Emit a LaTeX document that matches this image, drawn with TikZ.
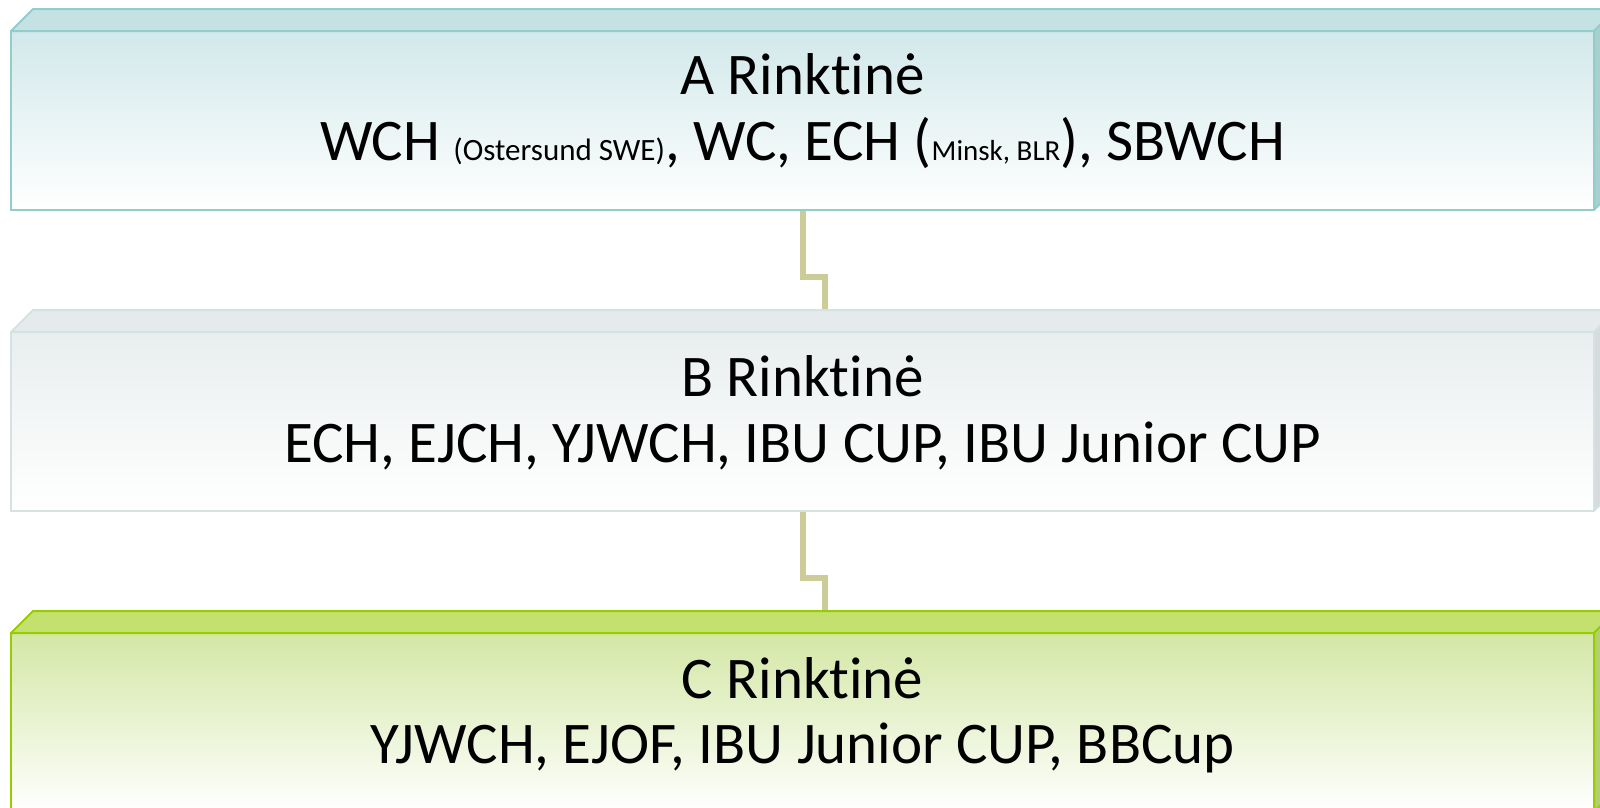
\documentclass[tikz,border=0pt]{standalone}
\usepackage{fontspec}
\setmainfont{Carlito}[Ligatures={CommonOff,RareOff}]
\usetikzlibrary{calc}
\definecolor{aFrontTop}{RGB}{210,232,234}
\definecolor{aTopFace}{RGB}{196,226,227}
\definecolor{aSide}{RGB}{168,208,207}
\definecolor{aLine}{RGB}{146,205,204}
\definecolor{bFrontTop}{RGB}{233,238,239}
\definecolor{bTopFace}{RGB}{229,235,236}
\definecolor{bSide}{RGB}{214,220,221}
\definecolor{bLine}{RGB}{214,225,226}
\definecolor{cFrontTop}{RGB}{211,231,166}
\definecolor{cTopFace}{RGB}{196,225,112}
\definecolor{cSide}{RGB}{178,208,110}
\definecolor{cLine}{RGB}{153,204,0}
\definecolor{connC}{RGB}{204,204,153}
\tikzset{
  front/.style={rectangle, inner sep=0pt, outer sep=0pt, minimum width=1583pt, minimum height=179pt, line width=2pt},
  title/.style={anchor=base, font=\fontsize{59}{70}\selectfont},
  sub/.style={anchor=base, font=\fontsize{59}{70}\selectfont},
  conn/.style={draw=connC, line width=6pt},
}
\newcommand{\smalltxt}[1]{{\fontsize{31}{36}\selectfont #1}}
\newcommand{\smallertxt}[1]{{\fontsize{29}{34}\selectfont #1}}
\newcommand{\rink}{Rinkt\kern0pt inė}
\begin{document}
\begin{tikzpicture}[x=1pt,y=-1pt]
\useasboundingbox (0,0) rectangle (1600,807);
\clip (0,0) rectangle (1600,807);
% front faces as named nodes
\path (802.5,120.5) node[front] (A) {};
\path (802.5,421.5) node[front] (B) {};
\path (802.5,722.5) node[front] (C) {};
\coordinate (Bb) at ([xshift=22pt,yshift=22pt]B.north);
\coordinate (Cb) at ([xshift=22pt,yshift=22pt]C.north);
% connectors
\draw[conn] (A.south) -- ++(0,67) -| (Bb);
\draw[conn] (B.south) -- ++(0,67) -| (Cb);
% box A
\shade[top color=aFrontTop, bottom color=white, draw=aLine, line width=2pt] (A.north west) rectangle (A.south east);
\filldraw[fill=aTopFace, draw=aLine, line width=2pt, line join=round] (A.north west) -- ++(22,-22) -- ([xshift=22pt,yshift=22pt]A.north east) -- (A.north east) -- cycle;
\filldraw[fill=aSide, draw=aLine, line width=2pt, line join=round] (A.north east) -- ++(22,-22) -- ([xshift=22pt,yshift=22pt]A.south east) -- (A.south east) -- cycle;
% box B
\shade[top color=bFrontTop, bottom color=white, draw=bLine, line width=2pt] (B.north west) rectangle (B.south east);
\filldraw[fill=bTopFace, draw=bLine, line width=2pt, line join=round] (B.north west) -- ++(22,-22) -- ([xshift=22pt,yshift=22pt]B.north east) -- (B.north east) -- cycle;
\filldraw[fill=bSide, draw=bLine, line width=2pt, line join=round] (B.north east) -- ++(22,-22) -- ([xshift=22pt,yshift=22pt]B.south east) -- (B.south east) -- cycle;
% box C
\shade[top color=cFrontTop, bottom color=white, draw=cLine, line width=2pt] (C.north west) rectangle (C.south east);
\filldraw[fill=cTopFace, draw=cLine, line width=2pt, line join=round] (C.north west) -- ++(22,-22) -- ([xshift=22pt,yshift=22pt]C.north east) -- (C.north east) -- cycle;
\filldraw[fill=cSide, draw=cLine, line width=2pt, line join=round] (C.north east) -- ++(22,-22) -- ([xshift=22pt,yshift=22pt]C.south east) -- (C.south east) -- cycle;
% texts
\node[title] (At) at (802.5,94) {A \rink};
\node[sub] (As) at (802.5,160) {WCH \smalltxt{(Ostersund SWE)}, WC, ECH (\smallertxt{Minsk, BLR}), SBWCH};
\node[title] (Bt) at (802.5,396) {B \rink};
\node[sub] (Bs) at (802.5,462) {ECH, EJCH, YJWCH, IBU CUP, IBU Junior CUP};
\node[title] (Ct) at (802.5,698) {C \rink};
\node[sub] (Cs) at (802.5,763) {YJWCH, EJOF, IBU Junior CUP, BBCup};
\end{tikzpicture}
\end{document}
